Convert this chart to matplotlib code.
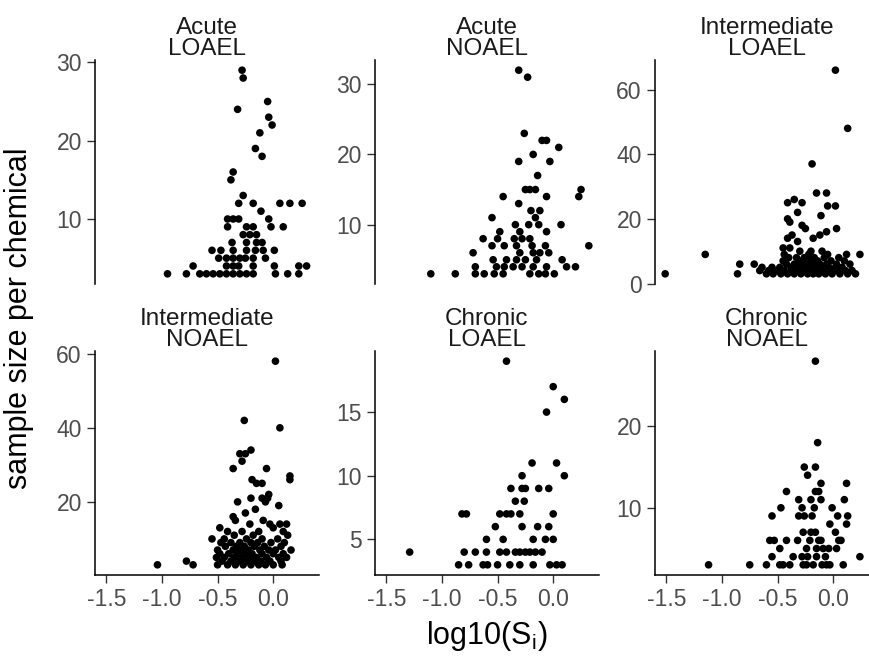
import matplotlib
matplotlib.use("Agg")
import matplotlib.pyplot as plt
from matplotlib.ticker import FixedLocator

plt.rcParams['font.family'] = ['Liberation Sans', 'DejaVu Sans']
plt.rcParams['axes.unicode_minus'] = False

# ---------------- data ----------------
panel_titles = ["Acute\nLOAEL", "Acute\nNOAEL", "Intermediate\nLOAEL",
                "Intermediate\nNOAEL", "Chronic\nLOAEL", "Chronic\nNOAEL"]

x_ticks = [-1.5, -1.0, -0.5, 0.0]
x_tick_labels = ["-1.5", "-1.0", "-0.5", "0.0"]

y_ticks = [[10, 20, 30], [10, 20, 30], [0, 20, 40, 60],
           [20, 40, 60], [5, 10, 15], [10, 20]]

# Acute LOAEL: (y value, list of x values)
acute_loael = [
    (29, [-0.28]), (28, [-0.27]), (25, [-0.05]), (24, [-0.32]), (23, [-0.04]),
    (22, [-0.01]), (21, [-0.12]), (19, [-0.16]), (18, [-0.10]), (16, [-0.36]),
    (15, [-0.38]), (13, [-0.27]),
    (12, [-0.31, -0.18, 0.06, 0.15, 0.26]),
    (11, [-0.11]),
    (10, [-0.41, -0.36, -0.31, -0.04]),
    (9, [-0.41, -0.24, -0.18, -0.02, 0.09]),
    (8, [-0.27, -0.21, -0.15]),
    (7, [-0.37, -0.24, -0.15, -0.10]),
    (6, [-0.55, -0.47, -0.36, -0.24, -0.16, -0.09, 0.01]),
    (5, [-0.49, -0.42, -0.36, -0.30, -0.25, -0.18, -0.07]),
    (4, [-0.72, -0.42, -0.36, -0.31, -0.18, 0.01, 0.23, 0.30]),
    (3, [-0.95, -0.78, -0.66, -0.60, -0.54, -0.48, -0.42, -0.36, -0.30,
         -0.24, -0.18, 0.02, 0.13, 0.23]),
]

acute_noael = [
    (32, [-0.31]), (31, [-0.23]), (23, [-0.26]), (22, [-0.10, -0.06]),
    (21, [0.05]), (20, [-0.18]), (19, [-0.31, -0.03]), (17, [-0.14]),
    (15, [-0.25, -0.21, -0.16, 0.25]),
    (14, [-0.45, -0.06, 0.23]),
    (13, [-0.31]), (12, [-0.20, -0.12]), (11, [-0.55, -0.16]),
    (10, [-0.34, -0.22, -0.13, 0.07]),
    (9, [-0.48, -0.30, -0.06]),
    (8, [-0.63, -0.50, -0.35, -0.28, -0.21]),
    (7, [-0.55, -0.44, -0.33, -0.19, -0.07, 0.32]),
    (6, [-0.72, -0.30, -0.18, -0.12, -0.04]),
    (5, [-0.54, -0.42, -0.33, -0.25, -0.15, 0.08]),
    (4, [-0.70, -0.51, -0.44, -0.36, -0.28, -0.18, -0.06, 0.12, 0.20]),
    (3, [-1.10, -0.88, -0.70, -0.62, -0.53, -0.45, -0.21, -0.13, -0.07, 0.01]),
]

intermediate_loael = [
    (66, [0.02]), (48, [0.13]), (37, [-0.19]), (28, [-0.15, -0.06]),
    (26, [-0.35]), (25, [-0.41, -0.28]), (24, [-0.05, 0.02]), (22, [-0.32]),
    (21, [-0.11]), (20, [-0.41]), (19, [-0.39]), (18, [-0.28]),
    (17, [-0.25, 0.03]), (16, [-0.06]), (15, [-0.37, -0.12]),
    (14, [-0.41, -0.18]), (13, [-0.32]),
    (11, [-0.45, -0.39]), (10, [-0.30, -0.20, -0.10]),
    (9, [-1.15, -0.44, -0.22, -0.05, 0.12, 0.24]),
    (8, [-0.40, -0.33, -0.26, -0.17, -0.08, 0.05]),
    (7, [-0.45, -0.30, -0.21, -0.14, -0.02, 0.10]),
    (6, [-0.84, -0.71, -0.42, -0.35, -0.28, -0.24, -0.19, -0.12, -0.06, 0.03, 0.15]),
    (5, [-0.64, -0.55, -0.48, -0.38, -0.33, -0.27, -0.22, -0.17, -0.11, -0.04,
         0.02, 0.08]),
    (4, [-0.66, -0.58, -0.50, -0.44, -0.37, -0.31, -0.26, -0.20, -0.15, -0.09,
         -0.03, 0.04, 0.11, 0.17]),
    (3, [-1.51, -0.86, -0.60, -0.54, -0.47, -0.41, -0.35, -0.29, -0.23, -0.18,
         -0.13, -0.07, -0.01, 0.06, 0.13, 0.20]),
]

intermediate_noael = [
    (58, [0.02]), (42, [-0.26]), (40, [0.06]), (34, [-0.20]),
    (33, [-0.30, -0.25]), (31, [-0.28]), (29, [-0.36, -0.06]), (27, [0.15]),
    (26, [-0.19, 0.15]), (25, [-0.15, -0.10]),
    (22, [-0.04]), (21, [-0.20, -0.10, -0.05]), (20, [-0.32, -0.07]),
    (19, [0.05]), (18, [-0.16]), (17, [-0.25]), (16, [-0.36]),
    (15, [-0.34, -0.09]),
    (14, [-0.21, -0.03, 0.06, 0.12]),
    (13, [-0.48, 0.00]),
    (12, [-0.41, -0.28, -0.13, 0.09]),
    (11, [-0.35, -0.18, 0.13]),
    (10, [-0.55, -0.44, -0.24, -0.10, 0.04]),
    (9, [-0.47, -0.38, -0.30, -0.20, -0.14, -0.02, 0.10]),
    (8, [-0.43, -0.33, -0.26, -0.17, -0.08, 0.07]),
    (7, [-0.50, -0.36, -0.29, -0.22, -0.12, -0.04, 0.02, 0.16]),
    (6, [-0.48, -0.40, -0.32, -0.25, -0.19, -0.10, 0.00, 0.09]),
    (5, [-0.51, -0.44, -0.35, -0.28, -0.21, -0.15, -0.06, 0.05, 0.12]),
    (4, [-0.78, -0.46, -0.38, -0.31, -0.24, -0.17, -0.11, -0.03, 0.07]),
    (3, [-1.04, -0.72, -0.50, -0.41, -0.34, -0.27, -0.20, -0.13, -0.07, 0.00, 0.08]),
]

chronic_loael = [
    (19, [-0.42]), (17, [0.00]), (16, [0.10]), (15, [-0.06]),
    (11, [-0.19, 0.03]), (10, [-0.28, 0.10]),
    (9, [-0.38, -0.28, -0.25, -0.13, -0.04]),
    (8, [-0.34, -0.26]),
    (7, [-0.82, -0.78, -0.48, -0.42, -0.38, -0.30, 0.00]),
    (6, [-0.52, -0.28, -0.14, -0.04]),
    (5, [-0.60, -0.45, -0.18, -0.07, 0.00]),
    (4, [-1.29, -0.80, -0.70, -0.60, -0.48, -0.42, -0.34, -0.30, -0.25, -0.21,
         -0.16, -0.10]),
    (3, [-0.85, -0.76, -0.63, -0.59, -0.50, -0.39, -0.30, -0.18, -0.03, 0.03, 0.08]),
]

chronic_noael = [
    (28, [-0.16]), (18, [-0.14]), (15, [-0.26, -0.16]), (14, [-0.23]),
    (13, [-0.11, 0.12]), (12, [-0.42, -0.16, -0.13]),
    (11, [-0.31, -0.20, -0.11, 0.10]),
    (10, [-0.47, -0.28, -0.17, -0.01]),
    (9, [-0.55, -0.31, -0.26, -0.19, 0.04, 0.13]),
    (8, [-0.03, 0.12]),
    (7, [-0.27, -0.20, -0.16, 0.02]),
    (6, [-0.57, -0.53, -0.42, -0.32, -0.21, -0.13, -0.11, 0.05, 0.07]),
    (5, [-0.48, -0.24, -0.15, -0.09, -0.04, 0.03]),
    (4, [-0.55, -0.36, -0.28, -0.23, -0.15, -0.07, 0.24]),
    (3, [-1.12, -0.75, -0.60, -0.48, -0.45, -0.39, -0.27, -0.24, -0.18, -0.10,
         -0.06, -0.03, 0.09]),
]

panels = [acute_loael, acute_noael, intermediate_loael,
          intermediate_noael, chronic_loael, chronic_noael]

# ---------------- figure ----------------
W, H = 869, 663
fig = plt.figure(figsize=(W / 100, H / 100), dpi=100)

col_left = [95, 375, 655]
panel_w = 224
row_top = [60, 351]
panel_h = 224

all_x = [x for p in panels for (_, xs) in p for x in xs]
xmin, xmax = min(all_x), max(all_x)
xpad = 0.05 * (xmax - xmin)

tick_color = '#4D4D4D'
for i, data in enumerate(panels):
    r, c = divmod(i, 3)
    left = col_left[c] / W
    bottom = 1 - (row_top[r] + panel_h) / H
    ax = fig.add_axes([left, bottom, panel_w / W, panel_h / H])
    xs = [x for (_, xl) in data for x in xl]
    ys = [y for (y, xl) in data for _ in xl]
    ax.scatter(xs, ys, s=30, color='black', edgecolors='none', zorder=3)
    ax.set_xlim(xmin - xpad, xmax + xpad)
    ymin_d, ymax_d = min(ys), max(ys)
    ypad = 0.05 * (ymax_d - ymin_d)
    ax.set_ylim(ymin_d - ypad, ymax_d + ypad)
    ax.yaxis.set_major_locator(FixedLocator(y_ticks[i]))
    ax.set_yticklabels([str(t) for t in y_ticks[i]])
    for s in ['top', 'right']:
        ax.spines[s].set_visible(False)
    ax.spines['left'].set_linewidth(1.1)
    ax.spines['bottom'].set_linewidth(1.1)
    ax.tick_params(axis='both', length=5.5, width=1.0, color='#333333',
                   labelsize=16.5, labelcolor=tick_color, pad=4)
    if r == 0:
        ax.spines['bottom'].set_visible(False)
        ax.set_xticks([])
    else:
        ax.set_xticks(x_ticks)
        ax.set_xticklabels(x_tick_labels)
    ax.set_title(panel_titles[i], fontsize=17.5, color='#1A1A1A',
                 linespacing=0.95, pad=3)

fig.text(487 / W, 1 - 636 / H, r'log10(S$_\mathregular{i}$)', ha='center', va='center',
         fontsize=22, color='black')
fig.text(19 / W, 1 - 318 / H, 'sample size per chemical', ha='center', va='center',
         rotation=90, fontsize=22, color='black')

fig.savefig('out.png', dpi=100, facecolor='white')
